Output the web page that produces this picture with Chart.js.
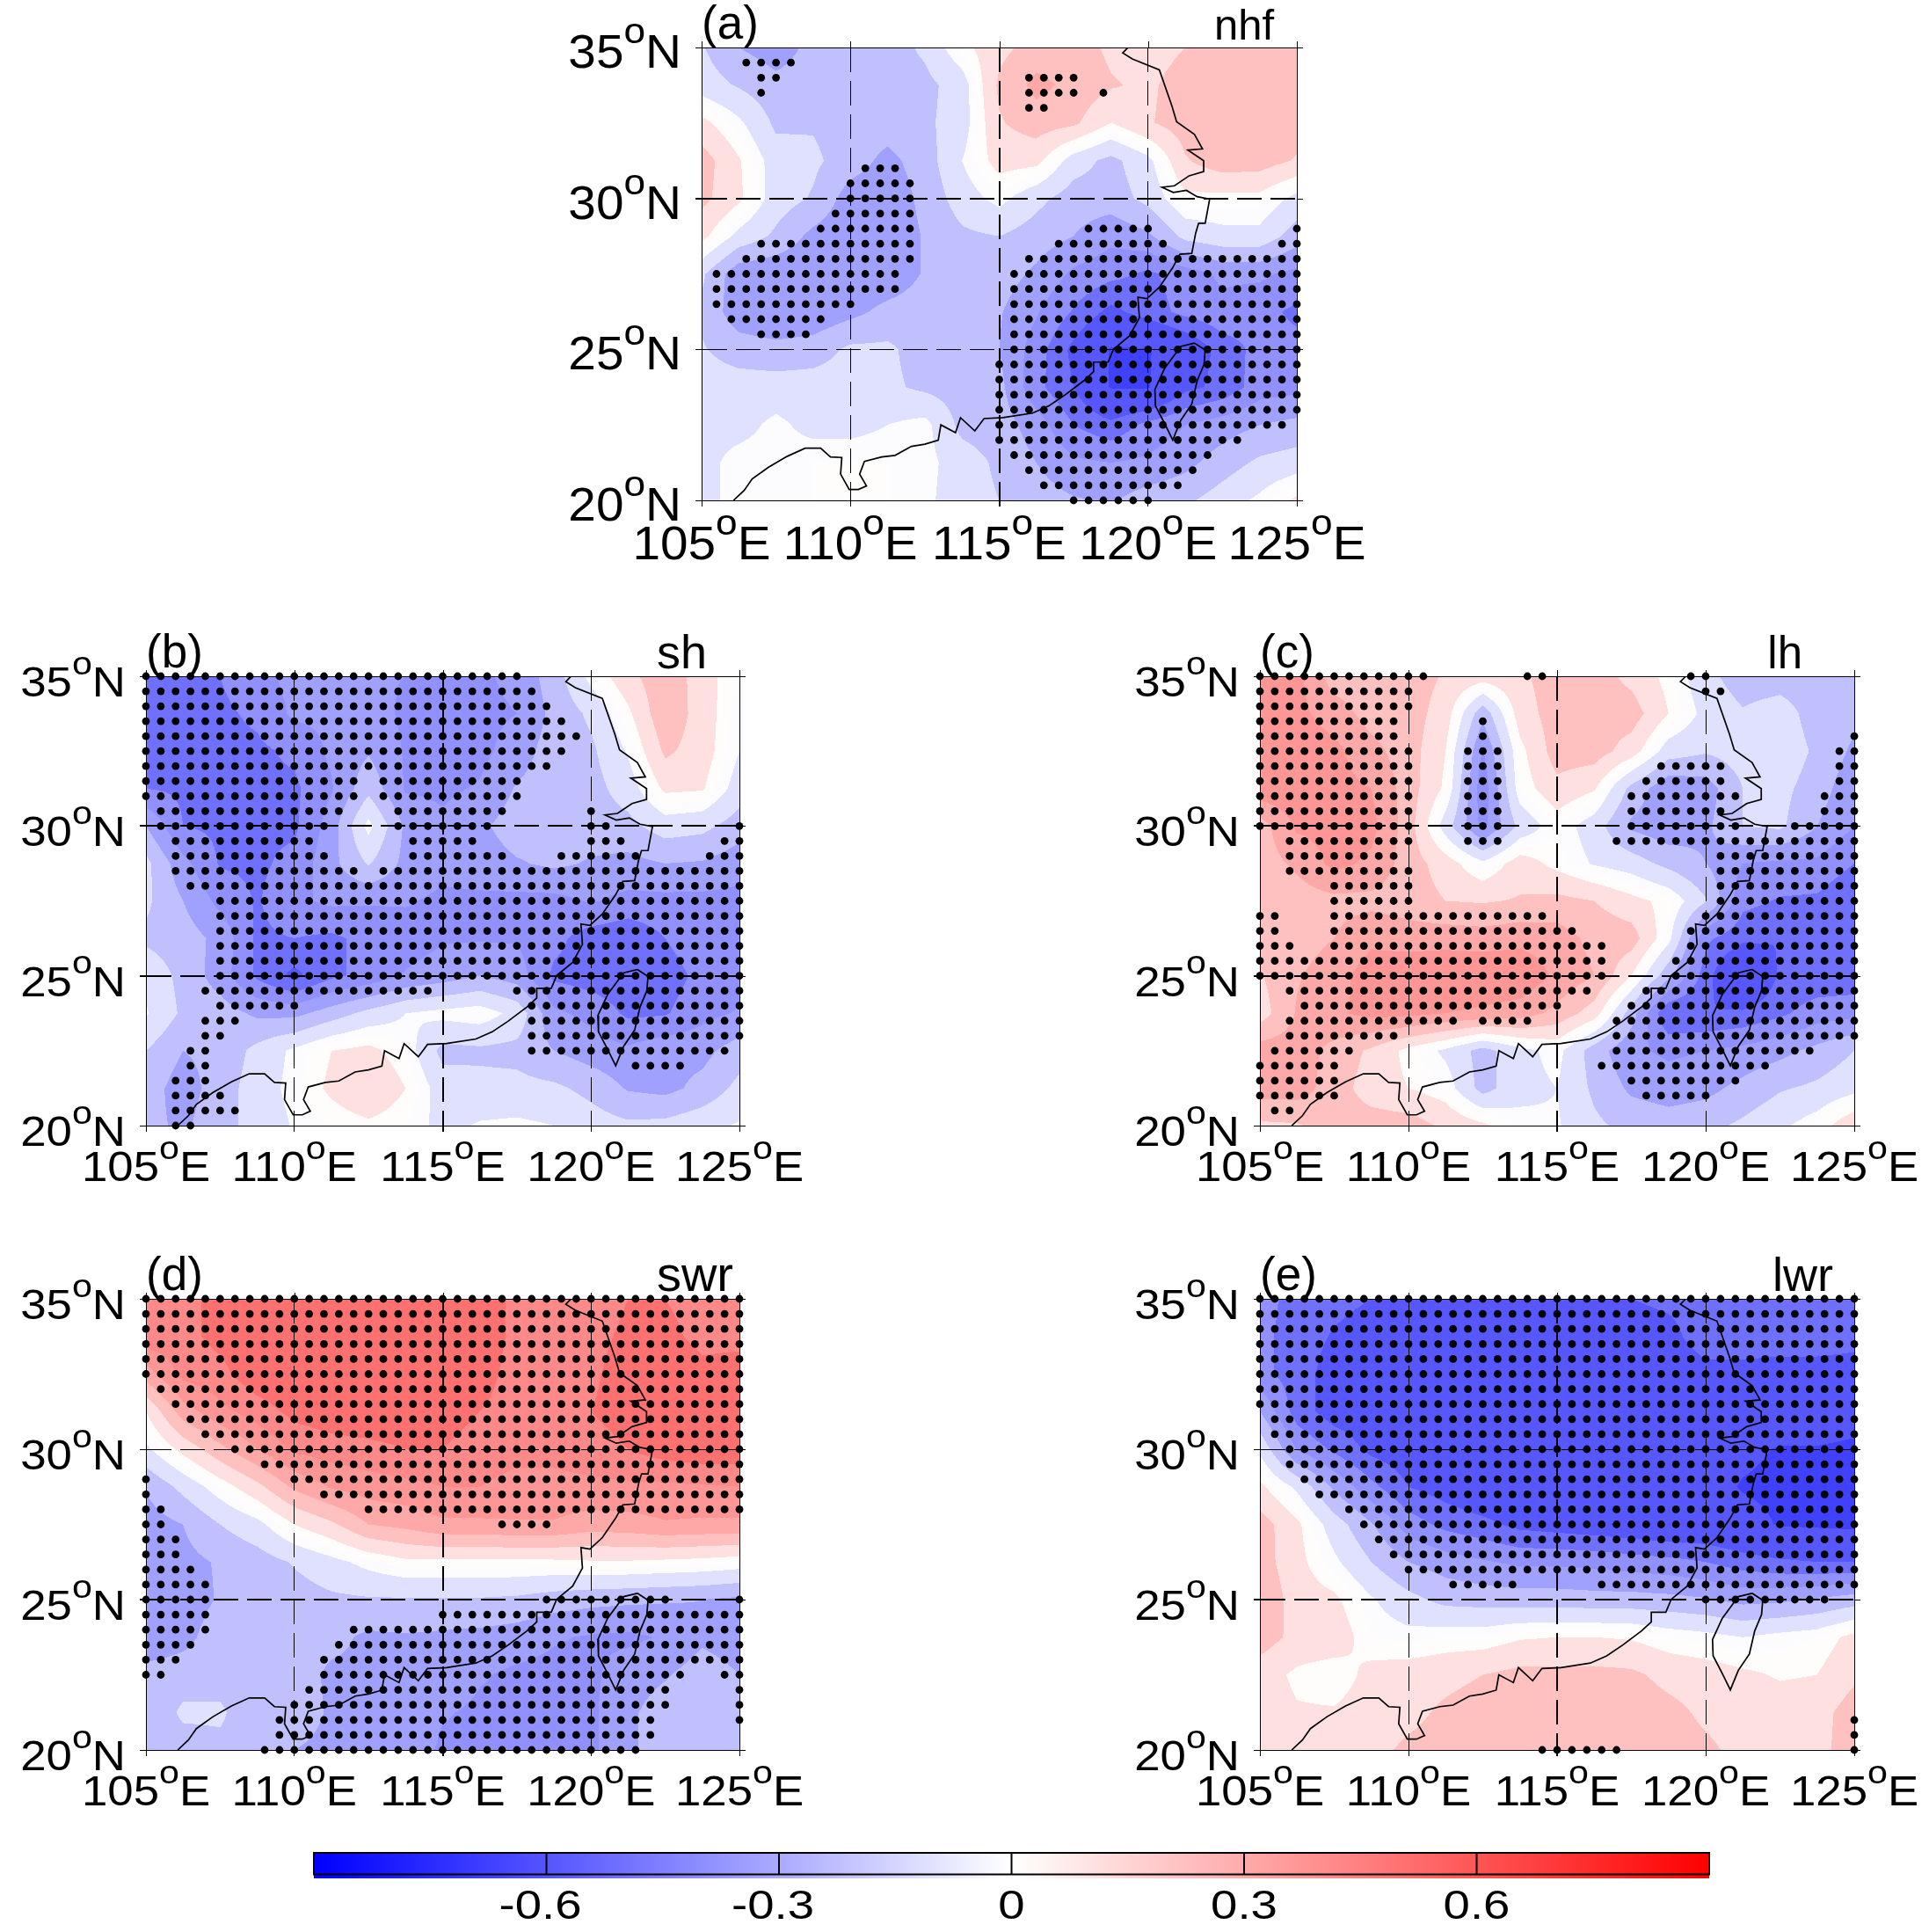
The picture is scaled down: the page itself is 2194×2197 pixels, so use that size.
<!DOCTYPE html>
<html>
<head>
<meta charset="utf-8">
<title>nhf sh lh swr lwr</title>
<script src="https://cdn.jsdelivr.net/npm/chart.js@4"></script>
<style>
html, body { margin: 0; background: #fff; }
body { position: relative; width: 2194px; height: 2197px; overflow: hidden; }
canvas { position: absolute; }
</style>
</head>
<body>
<script>
const lons = [105, 106.25, 107.5, 108.75, 110, 111.25, 112.5, 113.75, 115, 116.25, 117.5, 118.75, 120, 121.25, 122.5, 123.75, 125];
const lats = [35, 33.75, 32.5, 31.25, 30, 28.75, 27.5, 26.25, 25, 23.75, 22.5, 21.25, 20];
const lonTicks = [105, 110, 115, 120, 125];
const latTicks = [20, 25, 30, 35];
const barTicks = [-0.6, -0.3, 0, 0.3, 0.6];
const barRange = [-0.9, 0.9];

// anomaly, rows north to south
const gridA = [
  [-.14,-.25,-.30,-.22,-.20,-.20,-.13,.02,.12,.19,.20,.13,.10,.15,.20,.20,.20],
  [-.10,-.16,-.22,-.20,-.20,-.20,-.18,-.10,.17,.28,.22,.16,.13,.20,.20,.20,.20],
  [.08,-.03,-.17,-.16,-.20,-.20,-.17,-.10,.14,.20,.17,.05,.14,.20,.20,.20,.20],
  [.20,.06,-.10,-.13,-.20,-.28,-.20,-.05,.09,.08,-.10,-.18,-.08,.14,.21,.20,.14],
  [.18,.07,-.10,-.16,-.30,-.32,-.22,-.10,-.02,-.12,-.20,-.20,-.12,.03,.02,.02,-.08],
  [.08,-.08,-.17,-.28,-.33,-.33,-.24,-.17,-.15,-.20,-.25,-.32,-.27,-.12,-.08,-.08,-.20],
  [-.13,-.32,-.33,-.34,-.33,-.32,-.24,-.20,-.20,-.27,-.37,-.42,-.47,-.40,-.33,-.33,-.38],
  [-.17,-.31,-.34,-.33,-.28,-.22,-.20,-.20,-.24,-.34,-.46,-.58,-.50,-.42,-.38,-.42,-.47],
  [-.14,-.20,-.22,-.20,-.13,-.13,-.20,-.20,-.25,-.40,-.58,-.76,-.76,-.66,-.50,-.42,-.42],
  [-.10,-.10,-.10,-.10,-.10,-.13,-.17,-.20,-.22,-.42,-.55,-.76,-.76,-.58,-.52,-.40,-.38],
  [-.08,-.08,-.03,-.08,-.08,-.05,-.02,-.18,-.20,-.30,-.45,-.52,-.42,-.35,-.30,-.25,-.22],
  [-.08,-.02,-.02,0,0,0,-.02,-.10,-.17,-.25,-.33,-.35,-.33,-.28,-.20,-.13,-.10],
  [-.08,-.02,0,0,0,0,-.03,-.10,-.15,-.20,-.24,-.26,-.20,-.17,-.10,-.03,.07]
];
const gridB = [
  [-.48,-.47,-.45,-.38,-.32,-.33,-.34,-.35,-.38,-.37,-.32,-.20,-.02,.12,.22,.10,-.02],
  [-.50,-.50,-.47,-.43,-.33,-.33,-.30,-.37,-.38,-.38,-.35,-.22,-.13,.03,.23,.10,-.03],
  [-.50,-.50,-.48,-.47,-.43,-.33,-.26,-.36,-.38,-.38,-.30,-.20,-.17,-.04,.17,.10,-.05],
  [-.45,-.47,-.47,-.47,-.47,-.36,-.18,-.36,-.37,-.34,-.24,-.20,-.19,-.10,.07,.06,-.10],
  [-.25,-.45,-.47,-.47,-.47,-.30,-.02,-.27,-.33,-.27,-.20,-.20,-.20,-.18,-.10,-.12,-.20],
  [-.12,-.32,-.46,-.47,-.42,-.28,-.14,-.28,-.32,-.30,-.26,-.23,-.26,-.28,-.25,-.26,-.31],
  [-.13,-.25,-.38,-.46,-.37,-.33,-.34,-.34,-.37,-.37,-.38,-.38,-.34,-.38,-.38,-.38,-.38],
  [-.17,-.20,-.28,-.47,-.45,-.47,-.42,-.40,-.36,-.36,-.36,-.42,-.50,-.53,-.45,-.38,-.40],
  [-.08,-.18,-.30,-.47,-.58,-.47,-.42,-.34,-.30,-.25,-.30,-.47,-.50,-.52,-.50,-.42,-.40],
  [-.04,-.17,-.20,-.27,-.28,-.20,-.12,-.05,-.02,0,-.08,-.33,-.38,-.47,-.46,-.38,-.34],
  [-.15,-.25,-.22,-.12,-.03,.05,.08,0,-.18,-.17,-.18,-.25,-.30,-.33,-.28,-.28,-.20],
  [-.20,-.30,-.20,-.10,-.02,.07,.14,.05,-.10,-.12,-.12,-.13,-.18,-.26,-.28,-.22,-.12],
  [-.22,-.27,-.18,-.12,-.04,0,.03,0,-.08,-.04,-.03,-.05,-.10,-.13,-.12,-.08,-.04]
];
const gridC = [
  [.38,.38,.20,.20,.20,.14,.10,.13,.20,.20,.12,.02,-.12,-.20,-.20,-.20,-.20],
  [.42,.38,.30,.21,.20,.10,-.22,.10,.20,.20,.20,.05,-.08,-.14,-.10,-.20,-.22],
  [.42,.42,.38,.28,.20,.05,-.36,.02,.20,.20,.10,-.10,-.14,-.10,-.08,-.17,-.27],
  [.42,.42,.38,.35,.20,.03,-.42,0,.12,.06,-.18,-.33,-.30,-.15,-.12,-.20,-.32],
  [.20,.37,.38,.38,.20,-.10,-.38,-.12,0,-.10,-.27,-.32,-.27,-.15,-.13,-.25,-.35],
  [.20,.27,.38,.33,.20,.10,-.03,.10,.02,-.06,-.10,-.18,-.25,-.35,-.37,-.37,-.45],
  [.20,.20,.22,.22,.20,.15,.14,.16,.18,.15,.08,.02,-.14,-.42,-.46,-.47,-.55],
  [.20,.20,.25,.33,.30,.31,.30,.32,.30,.22,.20,-.02,-.43,-.52,-.55,-.55,-.55],
  [.14,.24,.31,.40,.44,.44,.44,.43,.33,.25,.05,-.22,-.50,-.76,-.53,-.52,-.52],
  [.10,.26,.33,.38,.38,.35,.33,.30,.22,.10,-.20,-.55,-.55,-.53,-.47,-.40,-.38],
  [.30,.30,.22,.13,.02,-.07,-.19,-.08,-.02,-.20,-.33,-.37,-.35,-.32,-.28,-.22,-.15],
  [.30,.30,.20,.10,.05,0,-.19,-.08,-.05,-.17,-.27,-.30,-.28,-.22,-.16,-.13,-.08],
  [.13,.14,.20,.20,.20,.13,.07,-.02,-.04,-.13,-.18,-.20,-.18,-.13,-.07,0,.13]
];
const gridD = [
  [.50,.50,.60,.62,.62,.63,.63,.63,.62,.62,.52,.50,.50,.55,.55,.52,.50],
  [.52,.52,.58,.63,.63,.64,.64,.64,.63,.62,.52,.50,.52,.57,.57,.53,.53],
  [.30,.48,.52,.62,.64,.64,.64,.64,.64,.60,.50,.50,.53,.60,.60,.57,.58],
  [.05,.30,.42,.50,.58,.62,.63,.63,.60,.55,.50,.50,.55,.60,.60,.60,.60],
  [-.07,.08,.22,.35,.47,.50,.52,.55,.55,.50,.48,.48,.50,.55,.60,.62,.62],
  [-.24,-.12,0,.12,.27,.36,.40,.42,.45,.45,.42,.42,.43,.43,.43,.44,.45],
  [-.30,-.25,-.15,-.08,.05,.13,.25,.28,.33,.33,.34,.34,.30,.31,.34,.33,.33],
  [-.30,-.28,-.24,-.20,-.14,-.08,-.02,.03,.03,.03,.03,.03,.04,.04,.03,.02,0],
  [-.33,-.30,-.24,-.22,-.20,-.17,-.16,-.16,-.16,-.16,-.17,-.20,-.22,-.23,-.24,-.25,-.27],
  [-.33,-.28,-.20,-.20,-.20,-.22,-.27,-.26,-.27,-.28,-.30,-.34,-.36,-.37,-.34,-.27,-.30],
  [-.21,-.20,-.20,-.20,-.20,-.27,-.27,-.26,-.27,-.34,-.37,-.38,-.37,-.30,-.26,-.20,-.25],
  [-.24,-.13,-.13,-.24,-.21,-.26,-.27,-.27,-.34,-.37,-.38,-.38,-.37,-.27,-.20,-.20,-.18],
  [-.20,-.20,-.18,-.20,-.25,-.27,-.27,-.28,-.37,-.38,-.38,-.38,-.37,-.27,-.20,-.20,-.20]
];
const gridE = [
  [-.40,-.50,-.52,-.55,-.58,-.60,-.60,-.60,-.60,-.58,-.55,-.53,-.52,-.48,-.47,-.47,-.47],
  [-.42,-.50,-.56,-.60,-.60,-.62,-.62,-.62,-.62,-.62,-.60,-.58,-.50,-.47,-.47,-.47,-.50],
  [-.42,-.50,-.60,-.62,-.65,-.66,-.66,-.66,-.66,-.66,-.64,-.63,-.58,-.60,-.62,-.62,-.62],
  [-.25,-.50,-.60,-.62,-.65,-.66,-.67,-.67,-.67,-.67,-.66,-.65,-.63,-.63,-.65,-.65,-.68],
  [-.07,-.36,-.47,-.58,-.62,-.66,-.67,-.67,-.68,-.68,-.66,-.65,-.66,-.72,-.76,-.76,-.78],
  [.07,-.07,-.27,-.42,-.55,-.60,-.66,-.68,-.68,-.66,-.65,-.66,-.70,-.76,-.78,-.78,-.80],
  [.20,.07,-.10,-.24,-.40,-.48,-.52,-.58,-.60,-.62,-.64,-.66,-.66,-.70,-.76,-.77,-.78],
  [.20,.08,-.03,-.15,-.25,-.30,-.34,-.37,-.37,-.38,-.40,-.42,-.45,-.50,-.53,-.55,-.55],
  [.24,.10,.07,-.04,-.12,-.18,-.19,-.20,-.20,-.21,-.21,-.22,-.24,-.28,-.27,-.24,-.20],
  [.20,.12,.11,0,-.02,0,0,.04,.05,.05,.04,0,-.02,-.05,-.02,0,.08],
  [.10,.03,0,.08,.10,.12,.15,.18,.18,.18,.17,.12,.10,.07,.04,.05,.13],
  [.10,.06,.06,.10,.12,.17,.20,.22,.22,.22,.21,.18,.13,.10,.10,.11,.20],
  [.10,.10,.10,.12,.17,.20,.22,.22,.22,.22,.21,.20,.17,.12,.10,.12,.20]
];

// significance dots, each entry: lat, first lon, last lon (0.5 degree spacing)
const stipA = [
  [34.5,106.5,108],[34,107,107.5],[33.5,107,107],[34,116,117.5],[33.5,116,117.5],[33.5,118.5,118.5],[33,116,116.5],
  [31,110.5,111.5],[30.5,110,112],[30,110,112],[29.5,109.5,112],[29,109,112],[29,118,120],[29,125,125],
  [28.5,107,112],[28.5,117,120.5],[28.5,124.5,125],[28,106.5,112],[28,116,125],[27.5,105.5,111.5],[27.5,115.5,125],
  [27,105.5,111.5],[27,115.5,125],[26.5,105.5,110],[26.5,115.5,125],[26,106,109],[26,115.5,125],[25.5,107,108.5],[25.5,115.5,125],
  [25,115.5,125],[24.5,115,125],[24,115,125],[23.5,115,125],[23,115,125],[22.5,115,124.5],[22,115,123],
  [21.5,115.5,122],[21,116,121.5],[20.5,116.5,121],[20,117.5,120]
];
const stipB = [
  [35,105,117.5],[34.5,105,118],[34,105,118.5],[33.5,105,119],[33,105,119.5],[32.5,105,119],[32,105,118.5],
  [31.5,105,112],[31.5,113,117.5],[31,105,112],[31,113,117.5],[30.5,105.5,111.5],[30.5,113.5,117],[30.5,120,120],
  [30,105.5,111],[30,113.5,116.5],[30,120,120.5],[30,125,125],[29.5,106,110.5],[29.5,114,116],[29.5,120,121],[29.5,124.5,125],
  [29,106,111],[29,114,117],[29,119,121.5],[29,124,125],[28.5,106,112],[28.5,113,125],[28,106.5,125],
  [27.5,107.5,125],[27,107.5,125],[26.5,107.5,125],[26,107.5,125],[25.5,107.5,125],[25,107.5,125],
  [24.5,107,114.5],[24.5,117.5,125],[24,107.5,110],[24,118,125],[23.5,107,108],[23.5,118,125],[23,107,107.5],[23,118,125],
  [22.5,106.5,107],[22.5,118,124.5],[22,106.5,107],[22,121.5,123],[21.5,106,107],[21,106,107.5],[20.5,106,108],[20,106,106.5]
];
const stipC = [
  [35,105,110.5],[35,114,114.5],[35,119.5,120],[34.5,105,110],[34.5,120,120.5],[34,105,110],[33.5,105,109.5],[33.5,112.5,112.5],
  [33,105,109.5],[33,112.5,112.5],[33,125,125],[32.5,105,110],[32.5,112,113],[32.5,124.5,125],
  [32,105,110],[32,112,113],[32,118.5,120.5],[32,124.5,125],[31.5,105,110],[31.5,112,113],[31.5,118,120.5],[31.5,124.5,125],
  [31,105,110],[31,112,113],[31,117.5,121],[31,124,125],[30.5,105,110],[30.5,112,113],[30.5,117.5,120.5],[30.5,124,125],
  [30,105,110],[30,112,113],[30,117.5,121],[30,123,125],[29.5,106,110],[29.5,112,113],[29.5,117,125],
  [29,106,109.5],[29,120.5,125],[28.5,106,110],[28.5,120.5,125],[28,107.5,110],[28,120.5,125],[27.5,107.5,110],[27.5,120.5,125],
  [27,105,105.5],[27,107.5,114.5],[27,120,125],[26.5,105,105.5],[26.5,107.5,115.5],[26.5,119.5,125],
  [26,105,106],[26,107.5,116.5],[26,119.5,125],[25.5,105,116.5],[25.5,119,125],[25,105,116.5],[25,119,125],
  [24.5,106,116],[24.5,118,125],[24,106.5,115],[24,117.5,125],[23.5,106,111.5],[23.5,112.5,114],[23.5,117,125],
  [23,106,109.5],[23,117,125],[22.5,105.5,108],[22.5,117,123.5],[22,105,107.5],[22,116.5,122],
  [21.5,105,107.5],[21.5,117.5,121],[21,105,107.5],[21,118,120],[20.5,105.5,106]
];
const stipD = [
  [35,105,125],[34.5,105,125],[34,105,125],[33.5,105,125],[33,105,125],[32.5,105,125],[32,105.5,125],[31.5,106,125],
  [31,106.5,125],[30.5,107,125],[30,108,125],[29.5,109,125],[29,105,105],[29,110,125],[28.5,105,105],[28.5,111,125],
  [28,105,105.5],[28,112.5,125],[27.5,105,105.5],[27.5,117,118.5],[27,105,106],[26.5,105,106],[26,105,106.5],[25.5,105,107],
  [25,105,107],[25,118.5,122.5],[25,125,125],[24.5,105,107],[24.5,115,125],[24,105,107],[24,112,125],
  [23.5,105,106.5],[23.5,111.5,125],[23,105,106],[23,111,125],[22.5,105,105.5],[22.5,111,123],[22.5,124.5,125],
  [22,110.5,122.5],[22,125,125],[21.5,110,122.5],[21.5,125,125],[21,109.5,122],[21,125,125],[20.5,109.5,122],[20,109,121.5]
];
const stipE = [
  [35,105,125],[34.5,105,125],[34,105,125],[33.5,105,125],[33,105,125],[32.5,105,125],[32,105,125],[31.5,105,125],
  [31,105.5,125],[30.5,105.5,125],[30,106,125],[29.5,106,125],[29,106.5,125],[28.5,107,125],[28,108,125],[27.5,108.5,125],
  [27,109,125],[26.5,109.5,125],[26,110,125],[25.5,111.5,113.5],[25.5,116.5,125],[25,120,124],
  [21,125,125],[20.5,125,125],[20,114.5,117],[20,125,125]
];

const coastLon = [106.07,106.43,106.7,107.25,107.88,108.48,109,109.33,109.71,109.67,109.96,110.27,110.54,110.31,110.47,111.05,111.5,112.05,112.5,112.95,113.04,113.53,113.7,114.18,114.49,115.13,116.12,116.67,117.21,117.84,118.17,118.17,118.66,118.84,119.38,119.71,119.66,119.96,120.38,120.83,121.07,121.47,121.6,121.7,121.92,122.07,121.65,121.29,120.85,120.47,120.89,121.38,121.87,121.87,121.34,121.83,121.56,120.96,120.8,120.38,119.47,119.15,119.33];
const coastLat = [20,20.33,20.71,21.1,21.46,21.73,21.73,21.44,21.42,20.87,20.36,20.36,20.48,20.87,21.29,21.44,21.49,21.79,21.86,21.99,22.5,22.24,22.74,22.3,22.71,22.74,22.89,23.13,23.49,23.96,24.26,24.58,24.58,25.01,25.45,26.05,26.73,26.68,27.06,27.71,28.15,28.18,28.85,29.18,29.18,29.98,30.06,30.27,30.2,30.37,30.42,30.75,30.89,31.25,31.6,31.64,32.12,32.54,33.07,34.26,34.62,34.82,35];
const taiwanLon = [121.56,121.1,120.56,120.23,120.25,120.53,120.83,121.1,121.47,121.65,121.88,121.92,121.56];
const taiwanLat = [25.21,25.1,24.38,23.67,23.13,22.6,22,22.65,23.19,23.96,24.5,24.98,25.21];

// contour bands: upper bound of |value| and the shade of the other two channels
const bandLimits = [.05, .15, .25, .35, .45, .55, .65, .75, 2];
const blueShades = [252, 224, 192, 160, 144, 112, 87, 87, 64];
const redShades = [252, 224, 192, 168, 150, 136, 112, 112, 112];

const panels = [
  { tag: '(a)', name: 'nhf', grid: gridA, stip: stipA, heavyLat: [30], left: 798, right: 1475, top: 54, bottom: 569, nameRight: 1449, nameSize: 49, size: 53, widen: 1.07, xDrop: 67 },
  { tag: '(b)', name: 'sh', grid: gridB, stip: stipB, heavyLat: [25, 30], left: 166, right: 841, top: 769, bottom: 1280, nameRight: 804, nameSize: 54, size: 48, widen: 1.1, xDrop: 63 },
  { tag: '(c)', name: 'lh', grid: gridC, stip: stipC, heavyLat: [25, 30], left: 1433, right: 2109, top: 769, bottom: 1280, nameRight: 2050, nameSize: 51, size: 48, widen: 1.1, xDrop: 63 },
  { tag: '(d)', name: 'swr', grid: gridD, stip: stipD, heavyLat: [25], left: 166, right: 841, top: 1477, bottom: 1990, nameRight: 834, nameSize: 56, size: 48, widen: 1.1, xDrop: 63 },
  { tag: '(e)', name: 'lwr', grid: gridE, stip: stipE, heavyLat: [25], left: 1433, right: 2109, top: 1477, bottom: 1990, nameRight: 2085, nameSize: 54, size: 48, widen: 1.1, xDrop: 63 }
];

const FONT = '"Liberation Sans", Arial, sans-serif';

function addCanvas(x, y, w, h) {
  const c = document.createElement('canvas');
  c.width = w;
  c.height = h;
  c.style.left = x + 'px';
  c.style.top = y + 'px';
  c.style.width = w + 'px';
  c.style.height = h + 'px';
  document.body.appendChild(c);
  return c;
}

function bandColor(v) {
  const a = Math.abs(v);
  let k = 0;
  while (a > bandLimits[k]) k++;
  if (v < 0) return [blueShades[k], blueShades[k], 255];
  return [255, redShades[k], redShades[k]];
}

// paint the bands pixel by pixel, going through the chart's own scales
function paintBands(chart, points) {
  const { x, y } = chart.scales;
  const area = chart.chartArea;
  const w = Math.round(area.right - area.left);
  const h = Math.round(area.bottom - area.top);
  const off = document.createElement('canvas');
  off.width = w;
  off.height = h;
  const octx = off.getContext('2d');
  const img = octx.createImageData(w, h);
  const nx = lons.length;
  for (let py = 0; py < h; py++) {
    const lat = y.getValueForPixel(area.top + py + 0.5);
    let r = 0;
    while (r < lats.length - 2 && lat < lats[r + 1]) r++;
    const fy = (lats[r] - lat) / (lats[r] - lats[r + 1]);
    for (let px = 0; px < w; px++) {
      const lon = x.getValueForPixel(area.left + px + 0.5);
      let c = 0;
      while (c < nx - 2 && lon > lons[c + 1]) c++;
      const fx = (lon - lons[c]) / (lons[c + 1] - lons[c]);
      const top = points[r * nx + c].v * (1 - fx) + points[r * nx + c + 1].v * fx;
      const bot = points[(r + 1) * nx + c].v * (1 - fx) + points[(r + 1) * nx + c + 1].v * fx;
      const col = bandColor(top * (1 - fy) + bot * fy);
      const i = (py * w + px) * 4;
      img.data[i] = col[0];
      img.data[i + 1] = col[1];
      img.data[i + 2] = col[2];
      img.data[i + 3] = 255;
    }
  }
  octx.putImageData(img, 0, 0);
  chart.ctx.drawImage(off, area.left, area.top);
}

// "35", small raised "o", then the hemisphere letter
function degLabel(ctx, num, letter, x, y, size, widen, align) {
  const small = size * 0.78;
  ctx.save();
  ctx.textAlign = 'left';
  ctx.textBaseline = 'alphabetic';
  ctx.font = size + 'px ' + FONT;
  const numW = ctx.measureText(num).width;
  const letW = ctx.measureText(letter).width;
  ctx.font = small + 'px ' + FONT;
  const oW = ctx.measureText('o').width;
  const total = (numW + oW + letW) * widen;
  ctx.translate(align === 'right' ? x - total : x - total / 2, y);
  ctx.scale(widen, 1);
  ctx.font = size + 'px ' + FONT;
  ctx.fillText(num, 0, 0);
  ctx.fillText(letter, numW + oW, 0);
  ctx.font = small + 'px ' + FONT;
  ctx.fillText('o', numW, -size * 0.53);
  ctx.restore();
}

function makePanel(p) {
  const ml = 160, mr = 84, mt = 54, mb = 80;
  const canvas = addCanvas(p.left - ml, p.top - mt, p.right - p.left + ml + mr, p.bottom - p.top + mt + mb);

  const gridPoints = [];
  lats.forEach((lat, r) => lons.forEach((lon, c) => gridPoints.push({ x: lon, y: lat, v: p.grid[r][c] })));
  const dots = [];
  p.stip.forEach(([lat, from, to]) => {
    for (let lon = from; lon <= to; lon += 0.5) dots.push({ x: lon, y: lat });
  });

  const mapPlugin = {
    id: 'mapPlugin',
    beforeDraw(chart) {
      const ctx = chart.ctx;
      ctx.save();
      ctx.fillStyle = '#000';
      ctx.textBaseline = 'alphabetic';
      ctx.font = '53px ' + FONT;
      ctx.textAlign = 'left';
      ctx.fillText(p.tag, chart.chartArea.left, chart.chartArea.top - 10);
      ctx.font = p.nameSize + 'px ' + FONT;
      ctx.textAlign = 'right';
      ctx.fillText(p.name, p.nameRight - p.left + ml, chart.chartArea.top - 9);
      ctx.restore();
      paintBands(chart, gridPoints);
    },
    afterDraw(chart) {
      const { x, y } = chart.scales;
      const area = chart.chartArea;
      const ctx = chart.ctx;
      ctx.save();
      ctx.fillStyle = '#000';
      ctx.strokeStyle = '#000';
      // tick marks on the far sides too
      lonTicks.forEach(v => {
        const px = Math.round(x.getPixelForValue(v)) + 0.5;
        ctx.lineWidth = 1;
        ctx.beginPath();
        ctx.moveTo(px, area.top);
        ctx.lineTo(px, area.top - 7);
        ctx.stroke();
        degLabel(ctx, String(v), 'E', x.getPixelForValue(v), area.bottom + p.xDrop, p.size, p.widen, 'center');
      });
      latTicks.forEach(v => {
        const py = Math.round(y.getPixelForValue(v)) + 0.5;
        ctx.lineWidth = 1;
        ctx.beginPath();
        ctx.moveTo(area.right, py);
        ctx.lineTo(area.right + 7, py);
        ctx.stroke();
        degLabel(ctx, String(v), 'N', area.left - 23, y.getPixelForValue(v) + 23, p.size, p.widen, 'right');
      });
      ctx.restore();
    }
  };

  new Chart(canvas.getContext('2d'), {
    type: 'scatter',
    data: {
      datasets: [
        { label: 'dots', data: dots, order: 0, pointRadius: 4.4, pointBackgroundColor: '#000', pointBorderWidth: 0, clip: false },
        { label: 'coast', data: coastLon.map((v, i) => ({ x: v, y: coastLat[i] })), order: 1, showLine: true, borderColor: '#000', borderWidth: 1.7, pointRadius: 0, tension: 0 },
        { label: 'taiwan', data: taiwanLon.map((v, i) => ({ x: v, y: taiwanLat[i] })), order: 1, showLine: true, borderColor: '#000', borderWidth: 1.7, pointRadius: 0, tension: 0 },
        { label: p.name, data: gridPoints, order: 2, pointRadius: 0 }
      ]
    },
    plugins: [mapPlugin],
    options: {
      responsive: false,
      animation: false,
      events: [],
      layout: { padding: { left: ml, right: mr, top: mt, bottom: mb } },
      plugins: { legend: { display: false }, tooltip: { enabled: false } },
      scales: {
        x: {
          type: 'linear',
          min: 105,
          max: 125,
          afterFit: s => { s.height = 0; },
          afterBuildTicks: s => { s.ticks = lonTicks.map(v => ({ value: v })); },
          ticks: { display: false },
          grid: { color: '#000', lineWidth: ctx => (ctx.tick && ctx.tick.value === 115 ? 2 : 1), tickLength: 7, tickColor: '#000' },
          border: { color: '#000', width: 1, dash: ctx => (ctx.tick && (ctx.tick.value === 105 || ctx.tick.value === 125)) ? [] : [28, 10] }
        },
        y: {
          type: 'linear',
          min: 20,
          max: 35,
          afterFit: s => { s.width = 0; },
          afterBuildTicks: s => { s.ticks = latTicks.map(v => ({ value: v })); },
          ticks: { display: false },
          grid: { color: '#000', lineWidth: ctx => (ctx.tick && p.heavyLat.includes(ctx.tick.value) ? 2 : 1), tickLength: 7, tickColor: '#000' },
          border: { color: '#000', width: 1, dash: ctx => (ctx.tick && (ctx.tick.value === 20 || ctx.tick.value === 35)) ? [] : [28, 10] }
        }
      }
    }
  });
}

function makeColorbar() {
  const box = { left: 357, right: 1944, top: 2107, bottom: 2136 };
  const canvas = addCanvas(300, 2090, 1700, 107);
  const ctx2d = canvas.getContext('2d');
  const ramp = ctx2d.createLinearGradient(box.left - 300, 0, box.right - 300, 0);
  ramp.addColorStop(0, '#0000ff');
  ramp.addColorStop(0.5, '#ffffff');
  ramp.addColorStop(1, '#ff0000');
  const framePlugin = {
    id: 'framePlugin',
    afterDatasetsDraw(chart) {
      const { x } = chart.scales;
      const area = chart.chartArea;
      const ctx = chart.ctx;
      const lineY = area.bottom - 4.5;
      ctx.save();
      ctx.strokeStyle = '#000';
      ctx.fillStyle = '#000';
      ctx.lineWidth = 2;
      ctx.strokeRect(area.left, area.top, area.right - area.left, lineY - area.top);
      barTicks.forEach(v => {
        const px = x.getPixelForValue(v);
        ctx.beginPath();
        ctx.moveTo(px, area.top);
        ctx.lineTo(px, lineY);
        ctx.stroke();
        // keep the digits over the tick, the minus sign hangs out to the left
        const text = v === 0 ? '0' : v.toFixed(1);
        ctx.save();
        ctx.font = '47px ' + FONT;
        ctx.textAlign = 'center';
        ctx.textBaseline = 'alphabetic';
        ctx.translate(px - (v < 0 ? 7 : 0), area.bottom + 46);
        ctx.scale(1.16, 1);
        ctx.fillText(text, 0, 0);
        ctx.restore();
      });
      ctx.restore();
    }
  };
  new Chart(ctx2d, {
    type: 'bar',
    data: {
      labels: ['colorbar'],
      datasets: [{ data: [barRange], barPercentage: 1, categoryPercentage: 1, backgroundColor: ramp }]
    },
    plugins: [framePlugin],
    options: {
      indexAxis: 'y',
      responsive: false,
      animation: false,
      events: [],
      layout: { padding: { left: box.left - 300, right: 2000 - box.right, top: box.top - 2090, bottom: 2197 - box.bottom } },
      plugins: { legend: { display: false }, tooltip: { enabled: false } },
      scales: {
        x: {
          type: 'linear',
          min: barRange[0],
          max: barRange[1],
          afterFit: s => { s.height = 0; },
          afterBuildTicks: s => { s.ticks = barTicks.map(v => ({ value: v })); },
          grid: { display: false },
          border: { display: false },
          ticks: { display: false }
        },
        y: { display: false }
      }
    }
  });
}

panels.forEach(makePanel);
makeColorbar();
</script>
</body>
</html>
